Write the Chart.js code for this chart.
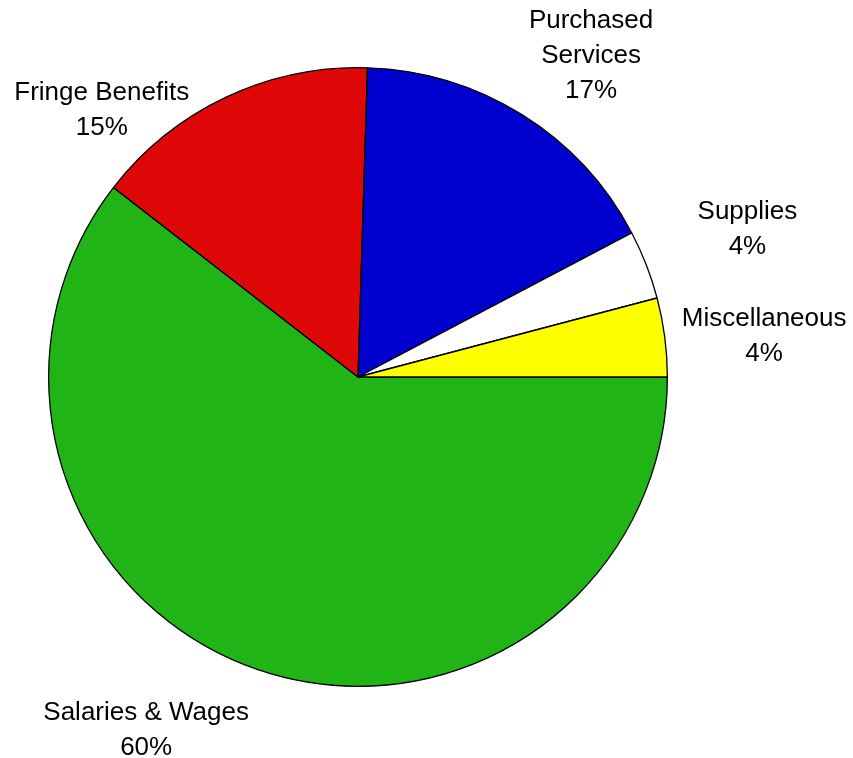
<!DOCTYPE html>
<html>
<head>
<meta charset="utf-8">
<script src="https://cdn.jsdelivr.net/npm/chart.js@4"></script>
<style>
  html, body { margin: 0; padding: 0; background: #ffffff; }
  #wrap { width: 853px; height: 758px; }
</style>
</head>
<body>
<div id="wrap"><canvas id="pieChart" width="853" height="758"></canvas></div>
<script>
// Expense breakdown pie — slices run clockwise from 3 o'clock

const categories = ["Salaries & Wages", "Fringe Benefits", "Purchased Services", "Supplies", "Miscellaneous"];
const labelLines = [["Salaries & Wages"], ["Fringe Benefits"], ["Purchased", "Services"], ["Supplies"], ["Miscellaneous"]];
const shares     = [60.49, 15.0, 16.8, 3.6, 4.11];
const colors     = ["#21b417", "#de0808", "#0000cf", "#ffffff", "#ffff00"];

// label placement relative to each slice: angle nudge (deg) and gap beyond the rim (px)
const labelAngleShift = [12.2, -18.4, 3.8, 0.2, 1.4];
const labelGap        = [101, 62, 89, 108, 99];

const outsideLabels = {
  id: "outsideLabels",
  afterDatasetsDraw(chart) {
    const ctx   = chart.ctx;
    const arcs  = chart.getDatasetMeta(0).data;
    const total = shares.reduce((a, b) => a + b, 0);
    ctx.save();
    ctx.font = "26px 'Liberation Sans', Arial, sans-serif";
    ctx.fillStyle = "#000000";
    ctx.textAlign = "center";
    ctx.textBaseline = "middle";
    const lineH = 35;
    arcs.forEach((arc, i) => {
      const p   = arc.getProps(["x", "y", "startAngle", "endAngle", "outerRadius"], true);
      const mid = (p.startAngle + p.endAngle) / 2 + labelAngleShift[i] * Math.PI / 180;
      const d   = p.outerRadius + labelGap[i];
      const cx  = p.x + Math.cos(mid) * d;
      const cy  = p.y + Math.sin(mid) * d + 2;
      const lines = labelLines[i].concat([Math.round(shares[i] / total * 100) + "%"]);
      const top = cy - (lines.length - 1) * lineH / 2;
      lines.forEach((t, k) => ctx.fillText(t, cx, top + k * lineH));
    });
    ctx.restore();
  }
};

new Chart(document.getElementById("pieChart").getContext("2d"), {
  type: "pie",
  data: {
    labels: categories,
    datasets: [{
      data:            shares,
      backgroundColor: colors,
      borderColor:     "#000000",
      borderWidth:     1.3,
      borderAlign:     "center"
    }]
  },
  options: {
    responsive:  false,
    animation:   false,
    rotation:    90,
    layout: { padding: { left: 48, right: 185, top: 67, bottom: 71 } },
    plugins: {
      legend:  { display: false },
      tooltip: { enabled: false }
    }
  },
  plugins: [outsideLabels]
});
</script>
</body>
</html>
